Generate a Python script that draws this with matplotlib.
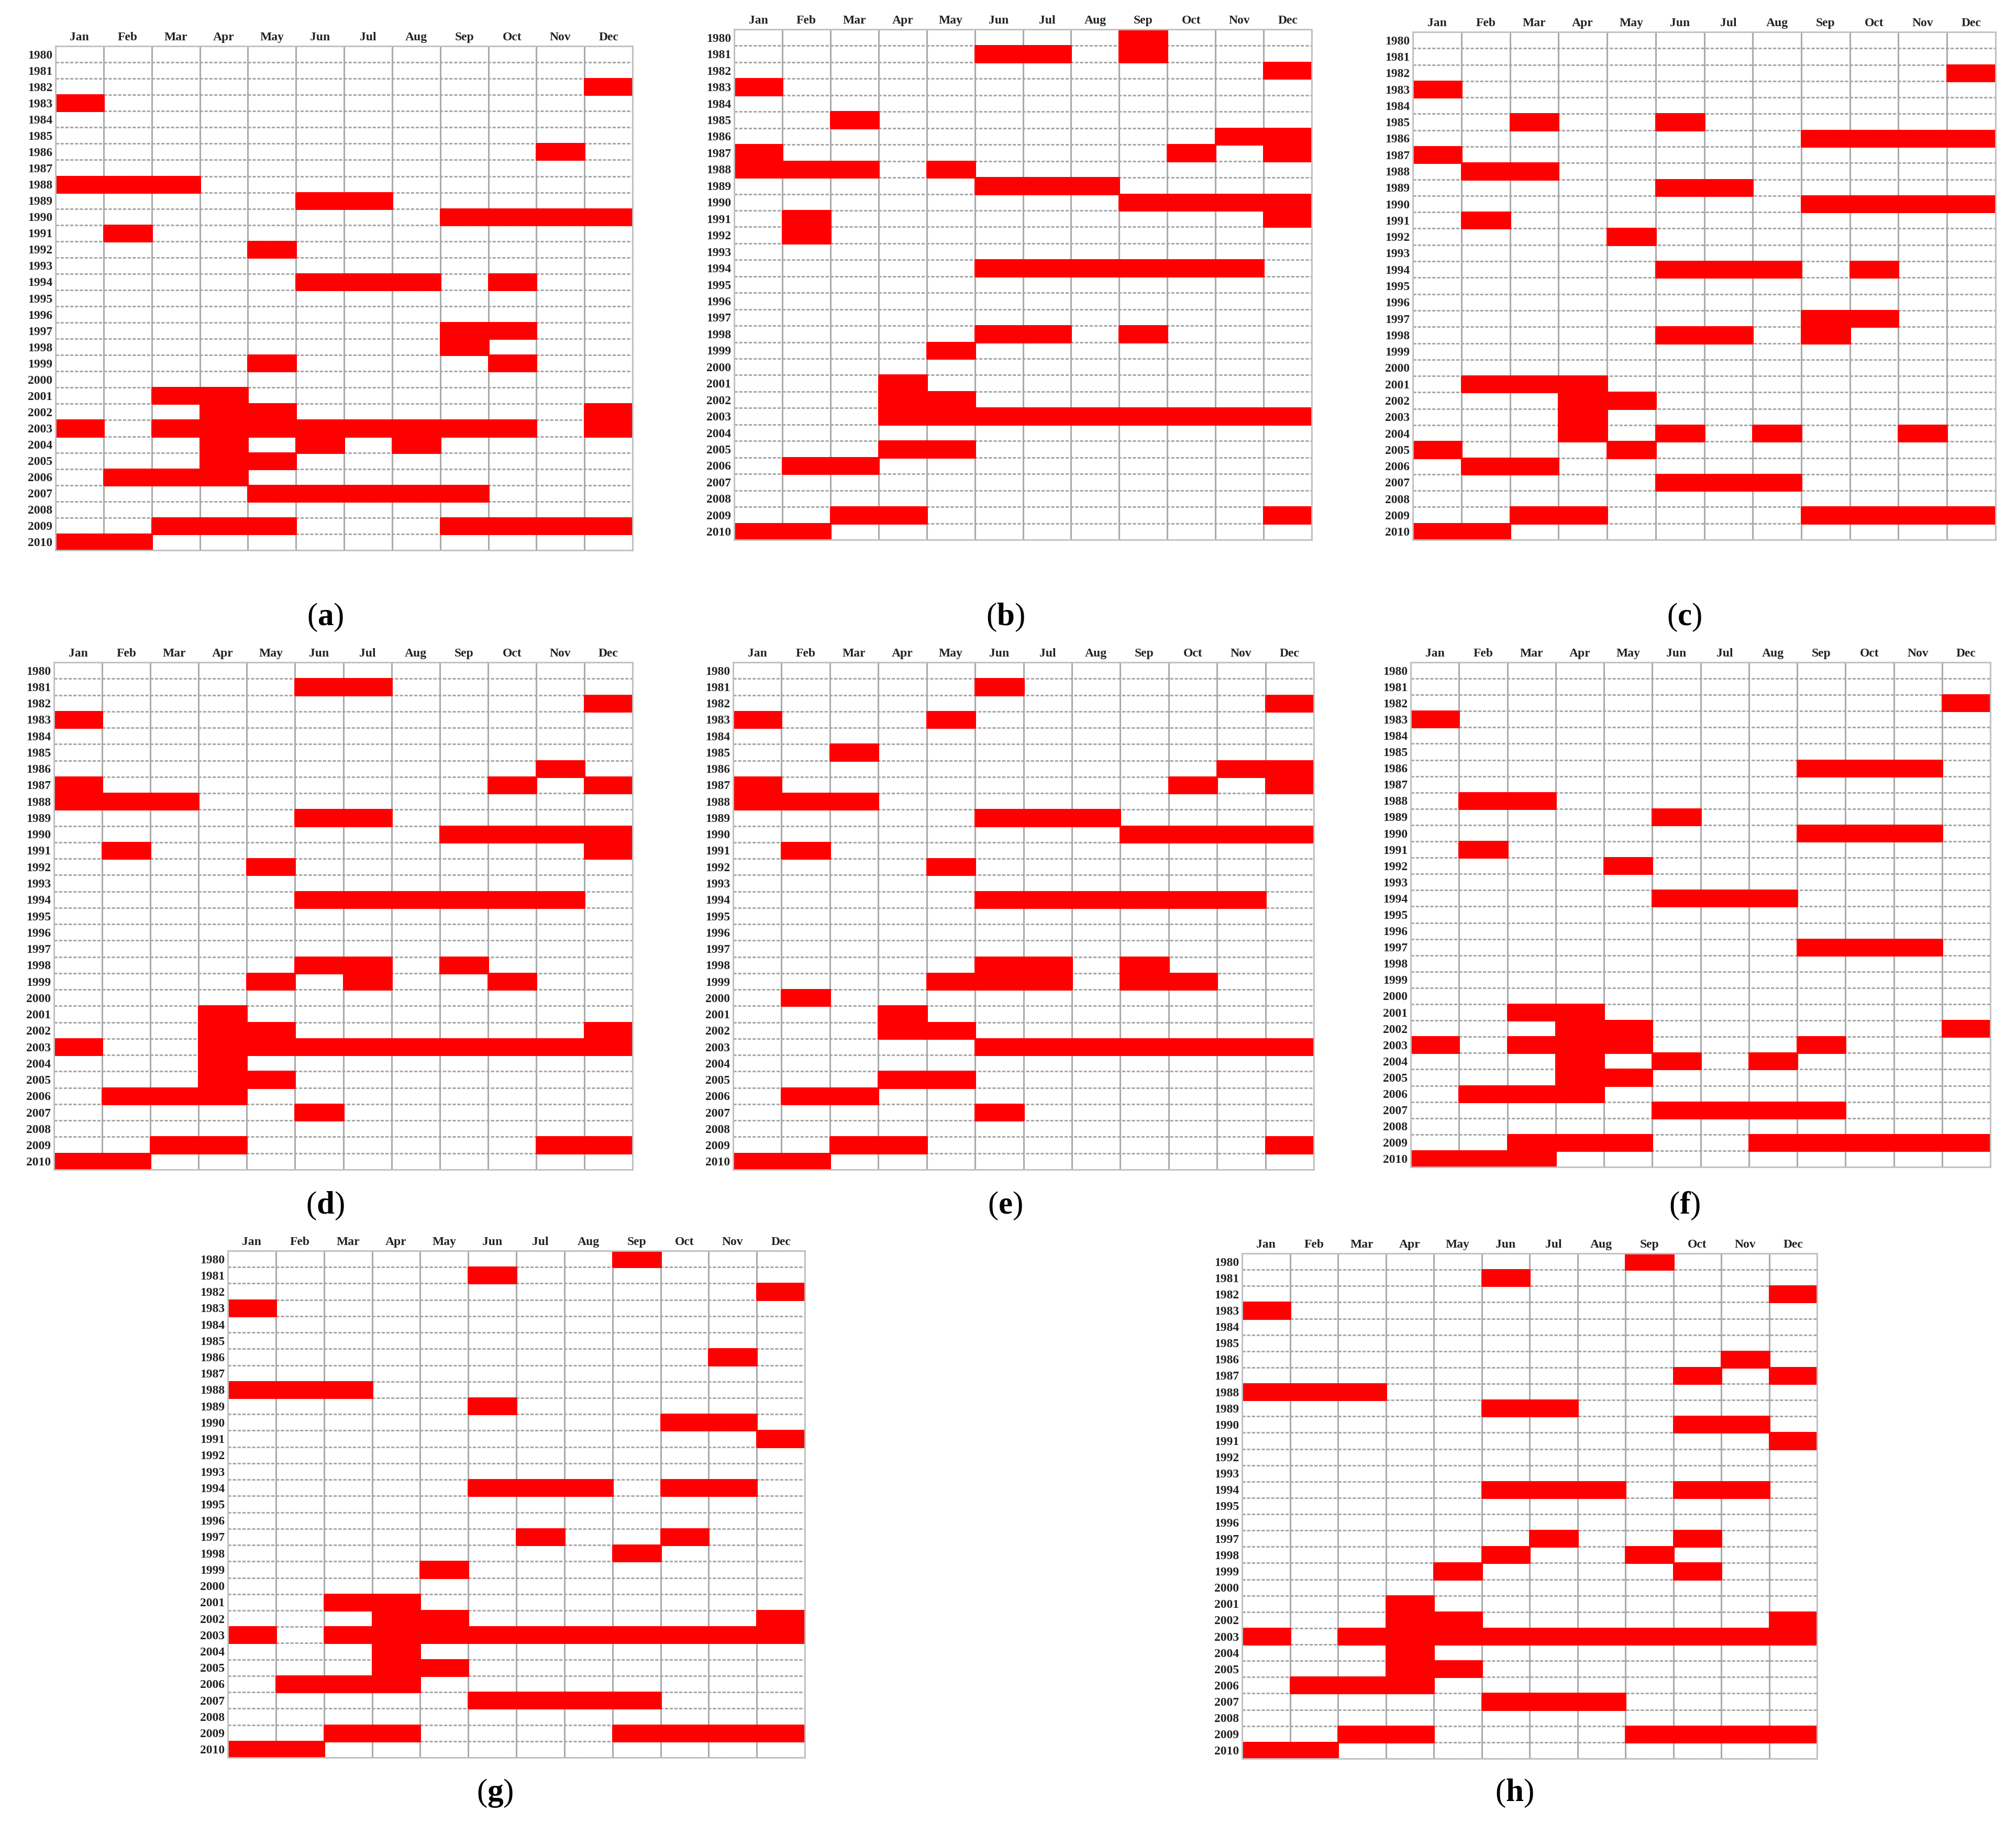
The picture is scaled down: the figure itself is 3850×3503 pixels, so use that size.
import numpy as np
import matplotlib
matplotlib.use('Agg')
import matplotlib.pyplot as plt
from matplotlib.colors import ListedColormap

months = ['Jan', 'Feb', 'Mar', 'Apr', 'May', 'Jun', 'Jul', 'Aug', 'Sep', 'Oct', 'Nov', 'Dec']
years = list(range(1980, 2011))

panel_a = {
    1982: ['Dec'], 1983: ['Jan'], 1986: ['Nov'], 1988: ['Jan', 'Feb', 'Mar'],
    1989: ['Jun', 'Jul'], 1990: ['Sep', 'Oct', 'Nov', 'Dec'], 1991: ['Feb'], 1992: ['May'],
    1994: ['Jun', 'Jul', 'Aug', 'Oct'], 1997: ['Sep', 'Oct'], 1998: ['Sep'], 1999: ['May', 'Oct'],
    2001: ['Mar', 'Apr'], 2002: ['Apr', 'May', 'Dec'],
    2003: ['Jan', 'Mar', 'Apr', 'May', 'Jun', 'Jul', 'Aug', 'Sep', 'Oct', 'Dec'],
    2004: ['Apr', 'Jun', 'Aug'], 2005: ['Apr', 'May'], 2006: ['Feb', 'Mar', 'Apr'],
    2007: ['May', 'Jun', 'Jul', 'Aug', 'Sep'], 2009: ['Mar', 'Apr', 'May', 'Sep', 'Oct', 'Nov', 'Dec'],
    2010: ['Jan', 'Feb'],
}
panel_b = {
    1980: ['Sep'], 1981: ['Jun', 'Jul', 'Sep'], 1982: ['Dec'], 1983: ['Jan'], 1985: ['Mar'],
    1986: ['Nov', 'Dec'], 1987: ['Jan', 'Oct', 'Dec'], 1988: ['Jan', 'Feb', 'Mar', 'May'],
    1989: ['Jun', 'Jul', 'Aug'], 1990: ['Sep', 'Oct', 'Nov', 'Dec'], 1991: ['Feb', 'Dec'], 1992: ['Feb'],
    1994: ['Jun', 'Jul', 'Aug', 'Sep', 'Oct', 'Nov'], 1998: ['Jun', 'Jul', 'Sep'], 1999: ['May'],
    2001: ['Apr'], 2002: ['Apr', 'May'],
    2003: ['Apr', 'May', 'Jun', 'Jul', 'Aug', 'Sep', 'Oct', 'Nov', 'Dec'],
    2005: ['Apr', 'May'], 2006: ['Feb', 'Mar'], 2009: ['Mar', 'Apr', 'Dec'], 2010: ['Jan', 'Feb'],
}
panel_c = {
    1982: ['Dec'], 1983: ['Jan'], 1985: ['Mar', 'Jun'], 1986: ['Sep', 'Oct', 'Nov', 'Dec'],
    1987: ['Jan'], 1988: ['Feb', 'Mar'], 1989: ['Jun', 'Jul'], 1990: ['Sep', 'Oct', 'Nov', 'Dec'],
    1991: ['Feb'], 1992: ['May'], 1994: ['Jun', 'Jul', 'Aug', 'Oct'], 1997: ['Sep', 'Oct'],
    1998: ['Jun', 'Jul', 'Sep'], 2001: ['Feb', 'Mar', 'Apr'], 2002: ['Apr', 'May'], 2003: ['Apr'],
    2004: ['Apr', 'Jun', 'Aug', 'Nov'], 2005: ['Jan', 'May'], 2006: ['Feb', 'Mar'],
    2007: ['Jun', 'Jul', 'Aug'], 2009: ['Mar', 'Apr', 'Sep', 'Oct', 'Nov', 'Dec'], 2010: ['Jan', 'Feb'],
}
panel_d = {
    1981: ['Jun', 'Jul'], 1982: ['Dec'], 1983: ['Jan'], 1986: ['Nov'], 1987: ['Jan', 'Oct', 'Dec'],
    1988: ['Jan', 'Feb', 'Mar'], 1989: ['Jun', 'Jul'], 1990: ['Sep', 'Oct', 'Nov', 'Dec'],
    1991: ['Feb', 'Dec'], 1992: ['May'], 1994: ['Jun', 'Jul', 'Aug', 'Sep', 'Oct', 'Nov'],
    1998: ['Jun', 'Jul', 'Sep'], 1999: ['May', 'Jul', 'Oct'], 2001: ['Apr'], 2002: ['Apr', 'May', 'Dec'],
    2003: ['Jan', 'Apr', 'May', 'Jun', 'Jul', 'Aug', 'Sep', 'Oct', 'Nov', 'Dec'],
    2004: ['Apr'], 2005: ['Apr', 'May'], 2006: ['Feb', 'Mar', 'Apr'], 2007: ['Jun'],
    2009: ['Mar', 'Apr', 'Nov', 'Dec'], 2010: ['Jan', 'Feb'],
}
panel_e = {
    1981: ['Jun'], 1982: ['Dec'], 1983: ['Jan', 'May'], 1985: ['Mar'], 1986: ['Nov', 'Dec'],
    1987: ['Jan', 'Oct', 'Dec'], 1988: ['Jan', 'Feb', 'Mar'], 1989: ['Jun', 'Jul', 'Aug'],
    1990: ['Sep', 'Oct', 'Nov', 'Dec'], 1991: ['Feb'], 1992: ['May'],
    1994: ['Jun', 'Jul', 'Aug', 'Sep', 'Oct', 'Nov'], 1998: ['Jun', 'Jul', 'Sep'],
    1999: ['May', 'Jun', 'Jul', 'Sep', 'Oct'], 2000: ['Feb'], 2001: ['Apr'], 2002: ['Apr', 'May'],
    2003: ['Jun', 'Jul', 'Aug', 'Sep', 'Oct', 'Nov', 'Dec'], 2005: ['Apr', 'May'],
    2006: ['Feb', 'Mar'], 2007: ['Jun'], 2009: ['Mar', 'Apr', 'Dec'], 2010: ['Jan', 'Feb'],
}
panel_f = {
    1982: ['Dec'], 1983: ['Jan'], 1986: ['Sep', 'Oct', 'Nov'], 1988: ['Feb', 'Mar'], 1989: ['Jun'],
    1990: ['Sep', 'Oct', 'Nov'], 1991: ['Feb'], 1992: ['May'], 1994: ['Jun', 'Jul', 'Aug'],
    1997: ['Sep', 'Oct', 'Nov'], 2001: ['Mar', 'Apr'], 2002: ['Apr', 'May', 'Dec'],
    2003: ['Jan', 'Mar', 'Apr', 'May', 'Sep'], 2004: ['Apr', 'Jun', 'Aug'], 2005: ['Apr', 'May'],
    2006: ['Feb', 'Mar', 'Apr'], 2007: ['Jun', 'Jul', 'Aug', 'Sep'],
    2009: ['Mar', 'Apr', 'May', 'Aug', 'Sep', 'Oct', 'Nov', 'Dec'], 2010: ['Jan', 'Feb', 'Mar'],
}
panel_g = {
    1980: ['Sep'], 1981: ['Jun'], 1982: ['Dec'], 1983: ['Jan'], 1986: ['Nov'],
    1988: ['Jan', 'Feb', 'Mar'], 1989: ['Jun'], 1990: ['Oct', 'Nov'], 1991: ['Dec'],
    1994: ['Jun', 'Jul', 'Aug', 'Oct', 'Nov'], 1997: ['Jul', 'Oct'], 1998: ['Sep'], 1999: ['May'],
    2001: ['Mar', 'Apr'], 2002: ['Apr', 'May', 'Dec'],
    2003: ['Jan', 'Mar', 'Apr', 'May', 'Jun', 'Jul', 'Aug', 'Sep', 'Oct', 'Nov', 'Dec'],
    2004: ['Apr'], 2005: ['Apr', 'May'], 2006: ['Feb', 'Mar', 'Apr'], 2007: ['Jun', 'Jul', 'Aug', 'Sep'],
    2009: ['Mar', 'Apr', 'Sep', 'Oct', 'Nov', 'Dec'], 2010: ['Jan', 'Feb'],
}
panel_h = {
    1980: ['Sep'], 1981: ['Jun'], 1982: ['Dec'], 1983: ['Jan'], 1986: ['Nov'], 1987: ['Oct', 'Dec'],
    1988: ['Jan', 'Feb', 'Mar'], 1989: ['Jun', 'Jul'], 1990: ['Oct', 'Nov'], 1991: ['Dec'],
    1994: ['Jun', 'Jul', 'Aug', 'Oct', 'Nov'], 1997: ['Jul', 'Oct'], 1998: ['Jun', 'Sep'],
    1999: ['May', 'Oct'], 2001: ['Apr'], 2002: ['Apr', 'May', 'Dec'],
    2003: ['Jan', 'Mar', 'Apr', 'May', 'Jun', 'Jul', 'Aug', 'Sep', 'Oct', 'Nov', 'Dec'],
    2004: ['Apr'], 2005: ['Apr', 'May'], 2006: ['Feb', 'Mar', 'Apr'], 2007: ['Jun', 'Jul', 'Aug'],
    2009: ['Mar', 'Apr', 'Sep', 'Oct', 'Nov', 'Dec'], 2010: ['Jan', 'Feb'],
}

panels = [panel_a, panel_b, panel_c, panel_d, panel_e, panel_f, panel_g, panel_h]
letters = ['a', 'b', 'c', 'd', 'e', 'f', 'g', 'h']

plt.rcParams['mathtext.fontset'] = 'custom'
plt.rcParams['mathtext.rm'] = 'Liberation Serif'
plt.rcParams['mathtext.bf'] = 'Liberation Serif:bold'

W, H = 3850, 3503
fig = plt.figure(figsize=(W / 100, H / 100), dpi=100)

# grid boxes in pixels: left, top, right, bottom ; label centre x, y
boxes = [
    (106, 88, 1208, 1051, 621, 1179),
    (1402, 56, 2505, 1031, 1920, 1179),
    (2698, 61, 3811, 1031, 3217, 1179),
    (103, 1265, 1208, 2234, 621, 2303),
    (1400, 1265, 2509, 2234, 1920, 2303),
    (2694, 1265, 3801, 2229, 3217, 2303),
    (435, 2389, 1537, 3357, 945, 3425),
    (2372, 2394, 3470, 3359, 2892, 3425),
]

# empty cells transparent so the grid shows; red cells sit on top of it
cmap = ListedColormap([(1, 1, 1, 0), '#ff0000'])

for d, letter, (l, t, r, b, lx, ly) in zip(panels, letters, boxes):
    m = np.zeros((len(years), len(months)))
    for y, ms in d.items():
        for mo in ms:
            m[years.index(y), months.index(mo)] = 1
    ax = fig.add_axes([l / W, 1 - b / H, (r - l) / W, (b - t) / H])
    ax.set_axisbelow(True)
    ax.pcolormesh(np.arange(13), np.arange(32), m, cmap=cmap, vmin=0, vmax=1,
                  edgecolors='face', linewidth=0.8, zorder=2)
    ax.set_xlim(0, 12)
    ax.set_ylim(31, 0)
    ax.set_xticks(np.arange(12) + 0.5)
    ax.set_xticklabels(months)
    ax.set_yticks(np.arange(31) + 0.5)
    ax.set_yticklabels(years)
    ax.xaxis.tick_top()
    ax.tick_params(length=0, labelsize=17, pad=4)
    for lab in ax.get_xticklabels() + ax.get_yticklabels():
        lab.set_fontfamily('Liberation Serif')
        lab.set_fontweight('bold')
        lab.set_color('#222222')
    ax.set_xticks(np.arange(13), minor=True)
    ax.set_yticks(np.arange(32), minor=True)
    ax.tick_params(which='minor', length=0)
    ax.xaxis.grid(True, which='minor', color='#aaaaaa', lw=2.2, ls='-')
    ax.yaxis.grid(True, which='minor', color='#a8a8a8', lw=2.2, ls=(0, (2, 1)))
    for s in ax.spines.values():
        s.set_color('#c0c0c0')
        s.set_linewidth(2)
    fig.text(lx / W, 1 - ly / H, r'($\mathbf{' + letter + '}$)', ha='center', va='center',
             fontsize=44, family='Liberation Serif')

plt.savefig('out.png', dpi=100)
